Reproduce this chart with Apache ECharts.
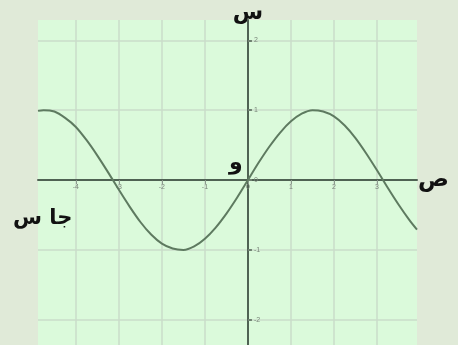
<!DOCTYPE html>
<html>
<head>
<meta charset="utf-8">
<script src="https://cdn.jsdelivr.net/npm/echarts@6/dist/echarts.min.js"></script>
<style>
  html, body { margin: 0; padding: 0; background: #e0ead8; }
  #myChart { width: 458px; height: 345px; }
</style>
</head>
<body>
<div id="myChart"></div>
<script>
// curve points
var xValues = [-4.88, -4.75, -4.5, -4.25, -4, -3.75, -3.5, -3.25, -3, -2.75, -2.5, -2.25, -2, -1.75, -1.5, -1.25, -1, -0.75, -0.5, -0.25, 0,
  0.25, 0.5, 0.75, 1, 1.25, 1.5, 1.75, 2, 2.25, 2.5, 2.75, 3, 3.25, 3.5, 3.75, 3.93]
var yValues = [0.99, 1.0, 0.98, 0.89, 0.76, 0.57, 0.35, 0.11, -0.14, -0.38, -0.6, -0.78, -0.91, -0.98, -1.0, -0.95, -0.84, -0.68, -0.48, -0.25, 0,
  0.25, 0.48, 0.68, 0.84, 0.95, 1.0, 0.98, 0.91, 0.78, 0.6, 0.38, 0.14, -0.11, -0.35, -0.57, -0.71]
var xTicks = [-4, -3, -2, -1, 0, 1, 2, 3]
var yTicks = [-2, -1, 0, 1, 2]
var xRange = [-4.88, 3.93]
var yRange = [-2.36, 2.29]

var points = xValues.map(function(x, i) {
  return [x, yValues[i]]
})

var box = { left: 38, right: 41, top: 20, bottom: 0 }
var plotW = 458 - box.left - box.right
var plotH = 345 - box.top - box.bottom
// move the axes onto the zero lines
var xAxisOffset = -plotH * (0 - yRange[0]) / (yRange[1] - yRange[0])
var yAxisOffset = -plotW * (0 - xRange[0]) / (xRange[1] - xRange[0])

var axisColor = '#4f6253'
var gridColor = '#cadcca'
var labelColor = '#7a857a'

var option = {
  backgroundColor: '#e0ead8',
  animation: false,
  grid: {
    show: true,
    left: box.left,
    right: box.right,
    top: box.top,
    bottom: box.bottom,
    outerBoundsMode: 'none',
    containLabel: false,
    backgroundColor: '#dbfadb',
    borderWidth: 0
  },
  xAxis: {
    type: 'value',
    position: 'bottom',
    offset: xAxisOffset,
    min: xRange[0],
    max: xRange[1],
    name: 'ص',
    nameLocation: 'end',
    nameGap: 1,
    nameTextStyle: {
      fontFamily: 'DejaVu Sans',
      fontWeight: 'bold',
      fontSize: 23,
      color: '#111',
      verticalAlign: 'middle',
      padding: [0, 0, 18, 0]
    },
    axisLine: { onZero: false, lineStyle: { color: axisColor, width: 2 } },
    axisTick: { show: true, customValues: xTicks, length: 4, lineStyle: { color: '#8a9a8c', width: 1 } },
    axisLabel: {
      customValues: xTicks,
      fontSize: 7,
      color: labelColor,
      margin: 4
    },
    splitLine: { show: true, lineStyle: { color: gridColor, width: 1.5 } }
  },
  yAxis: {
    type: 'value',
    position: 'left',
    offset: yAxisOffset,
    min: yRange[0],
    max: yRange[1],
    name: 'س',
    nameLocation: 'end',
    nameGap: -4,
    nameTextStyle: {
      fontFamily: 'DejaVu Sans',
      fontWeight: 'bold',
      fontSize: 22,
      color: '#111'
    },
    axisLine: { onZero: false, lineStyle: { color: axisColor, width: 2 } },
    axisTick: { show: true, customValues: yTicks, inside: true, length: 4, lineStyle: { color: '#6e7f70', width: 2 } },
    axisLabel: {
      customValues: yTicks,
      inside: true,
      fontSize: 7,
      color: labelColor,
      margin: 6
    },
    splitLine: { show: true, lineStyle: { color: gridColor, width: 1.5 } }
  },
  graphic: [
    {
      type: 'text',
      left: 229,
      top: 152,
      style: { text: 'و', font: 'bold 22px "DejaVu Sans"', fill: '#111' }
    },
    {
      type: 'text',
      left: 13,
      top: 208,
      style: { text: 'جا س', font: 'bold 21px "DejaVu Sans"', fill: '#111' }
    }
  ],
  series: [
    {
      type: 'line',
      data: points,
      smooth: 0.3,
      symbol: 'none',
      lineStyle: { color: '#5e7a60', width: 2 }
    }
  ]
}

var myChart = echarts.init(document.getElementById('myChart'))
myChart.setOption(option)
</script>
</body>
</html>
